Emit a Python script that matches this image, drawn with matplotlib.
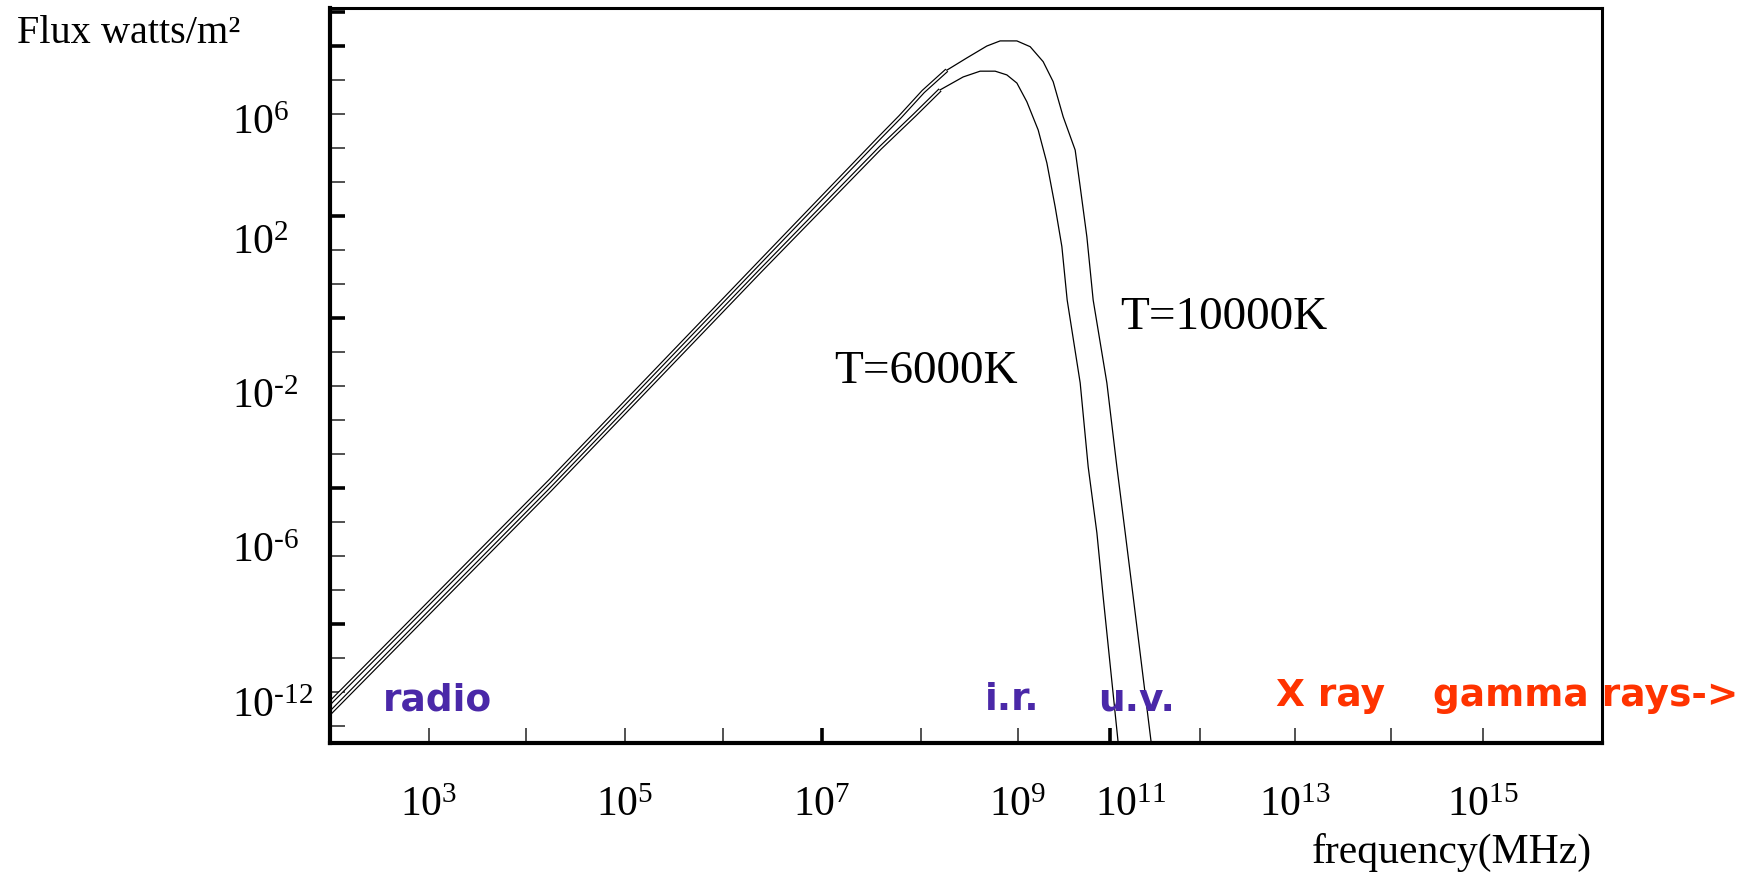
"""
Blackbody flux against frequency for two stellar temperatures, with the
spectral regions marked along the bottom of the plot.
"""

import numpy as np
import matplotlib
matplotlib.use('Agg')
import matplotlib.pyplot as plt
from matplotlib import patheffects
from matplotlib.ticker import FixedLocator, FixedFormatter

# log10 of frequency [MHz]; the scale jumps straight from 10^9 to 10^11
DECADE_KNOTS = [2, 3, 4, 5, 6, 7, 8, 9, 11, 12, 13, 14, 15, 17]
SLOT_KNOTS = [0, 98.5, 196, 295, 393, 492, 590.5, 688, 780, 870, 964.5,
              1061, 1153, 1337]

# T = 10000 K curve: log10 frequency, flux level (one unit per y tick)
hot_nu = [2.0, 4.242, 6.374, 7.589, 7.792, 8.026, 8.269, 8.474, 8.679,
          8.815, 8.987, 9.261, 9.543, 9.761, 9.978, 10.239, 10.348, 10.493,
          10.630, 10.928, 11.074, 11.167, 11.256, 11.456, 11.48]
hot_flux = [0.68, 7.21, 13.65, 17.32, 17.92, 18.66, 19.29, 19.65, 20.00,
            20.15, 20.15, 19.98, 19.54, 18.95, 17.92, 16.94, 15.86, 14.39,
            12.53, 10.09, 7.63, 5.68, 3.79, -0.5, -1.0]

# T = 6000 K curve
cool_nu = [2.0, 4.242, 6.374, 7.589, 7.939, 8.200, 8.436, 8.610, 8.764,
           8.884, 8.987, 9.189, 9.435, 9.624, 9.804, 9.950, 10.065, 10.348,
           10.522, 10.711, 10.848, 11.089, 11.11]
cool_flux = [0.38, 6.94, 13.38, 17.00, 17.97, 18.71, 19.09, 19.26, 19.26,
             19.15, 18.91, 18.36, 17.53, 16.56, 15.27, 14.10, 12.53, 10.09,
             7.62, 5.68, 3.79, -0.5, -1.0]

# axis ticks and labels
x_tick_decades = [3, 4, 5, 6, 7, 8, 9, 11, 12, 13, 14, 15]
x_thick_decades = [7, 11]
x_label_pos = [3, 5, 7, 9, 11.233, 13, 15]
x_labels = ['10^3', '10^5', '10^7', '10^9', '10^11', '10^13', '10^15']

y_tick_levels = list(range(0, 22))
y_thick_levels = [21, 20, 15, 12, 7, 3]
y_label_pos = [17.91, 14.38, 9.85, 5.32, 0.76]
y_labels = ['10^6', '10^2', '10^-2', '10^-6', '10^-12']

# spectral region names along the bottom
regions = ['radio', 'i.r.', 'u.v.', 'X ray', 'gamma rays->']
region_nu = [2.538, 8.662, 10.739, 12.804, 14.457]
region_level = [0.47, 0.47, 0.47, 0.59, 0.59]
region_colors = ['#4a28a8', '#4a28a8', '#4a28a8', '#ff3300', '#ff3300']

SERIF = 'Liberation Serif'
plt.rcParams['mathtext.fontset'] = 'custom'
plt.rcParams['mathtext.rm'] = SERIF
plt.rcParams['mathtext.it'] = SERIF


def to_slot(x):
    return np.interp(x, DECADE_KNOTS, SLOT_KNOTS)


def from_slot(s):
    return np.interp(s, SLOT_KNOTS, DECADE_KNOTS)


def power_label(text):
    base, exp = text.split('^')
    exp = exp.replace('-', '\u2010')
    return r'$\mathrm{%s}^{\mathrm{%s}}$' % (base, exp)


def setup_axes(ax):
    ax.set_xscale('function', functions=(to_slot, from_slot))
    ax.set_xlim(2, 16.29)
    ax.set_ylim(-0.5, 21.118)


def hollow_curve(ax, nu, flux, split):
    # rising part drawn as an outlined line, the rest as a plain thin line
    ax.plot(nu[:split + 1], flux[:split + 1], color='white', lw=1.3,
            solid_capstyle='butt',
            path_effects=[patheffects.Stroke(linewidth=3.0, foreground='black'),
                          patheffects.Normal()])
    ax.plot(nu[split:], flux[split:], color='black', lw=0.9)


def main():
    fig = plt.figure(figsize=(17.51, 8.74), dpi=100)
    ax = fig.add_axes([0.18846, 0.14989, 0.72644, 0.84096])
    setup_axes(ax)

    hollow_curve(ax, hot_nu, hot_flux, 6)
    hollow_curve(ax, cool_nu, cool_flux, 5)

    ax.text(7.122, 10.09, 'T=6000K', family=SERIF, fontsize=34,
            va='baseline', ha='left')
    ax.text(11.111, 11.68, 'T=10000K', family=SERIF, fontsize=34,
            va='baseline', ha='left')

    for name, nu, level, color in zip(regions, region_nu, region_level,
                                      region_colors):
        ax.text(nu, level, name, color=color, family='DejaVu Sans',
                fontweight='bold', fontsize=27, va='baseline', ha='left',
                clip_on=False)

    # tick marks and labels
    ax.xaxis.remove_overlapping_locs = False
    ax.yaxis.remove_overlapping_locs = False
    ax.xaxis.set_major_locator(FixedLocator(x_label_pos))
    ax.xaxis.set_major_formatter(
        FixedFormatter([power_label(s) for s in x_labels]))
    ax.xaxis.set_minor_locator(FixedLocator(x_tick_decades))
    ax.yaxis.set_major_locator(FixedLocator(y_label_pos))
    ax.yaxis.set_major_formatter(
        FixedFormatter([power_label(s) for s in y_labels]))
    ax.yaxis.set_minor_locator(FixedLocator(y_tick_levels))
    ax.tick_params(which='major', length=0, labelsize=30)
    ax.tick_params(axis='x', which='major', pad=29)
    ax.tick_params(axis='y', which='major', pad=70.6)
    ax.tick_params(which='minor', direction='in', length=11, width=1.1,
                   color='#222222')
    for lab in ax.get_yticklabels():
        lab.set_horizontalalignment('left')

    for side in ['left', 'bottom']:
        ax.spines[side].set_linewidth(3.0)
    for side in ['top', 'right']:
        ax.spines[side].set_linewidth(2.2)

    # heavier ticks on a transparent overlay
    over = fig.add_axes(ax.get_position(), frameon=False)
    setup_axes(over)
    over.xaxis.set_major_locator(FixedLocator(x_thick_decades))
    over.yaxis.set_major_locator(FixedLocator(y_thick_levels))
    over.tick_params(direction='in', length=11, width=2.6,
                     labelbottom=False, labelleft=False)
    over.xaxis.set_minor_locator(FixedLocator([]))
    over.yaxis.set_minor_locator(FixedLocator([]))

    ax.set_ylabel('Flux watts/m\u00b2', family=SERIF, fontsize=29,
                  rotation=0, ha='left', va='baseline')
    ax.yaxis.set_label_coords(-0.2461, 0.9524)
    ax.set_xlabel('frequency(MHz)', family=SERIF, fontsize=30, va='center')
    ax.xaxis.set_label_coords(0.882, -0.1483)

    fig.savefig('out.png', dpi=100)
    plt.close(fig)


if __name__ == '__main__':
    main()
